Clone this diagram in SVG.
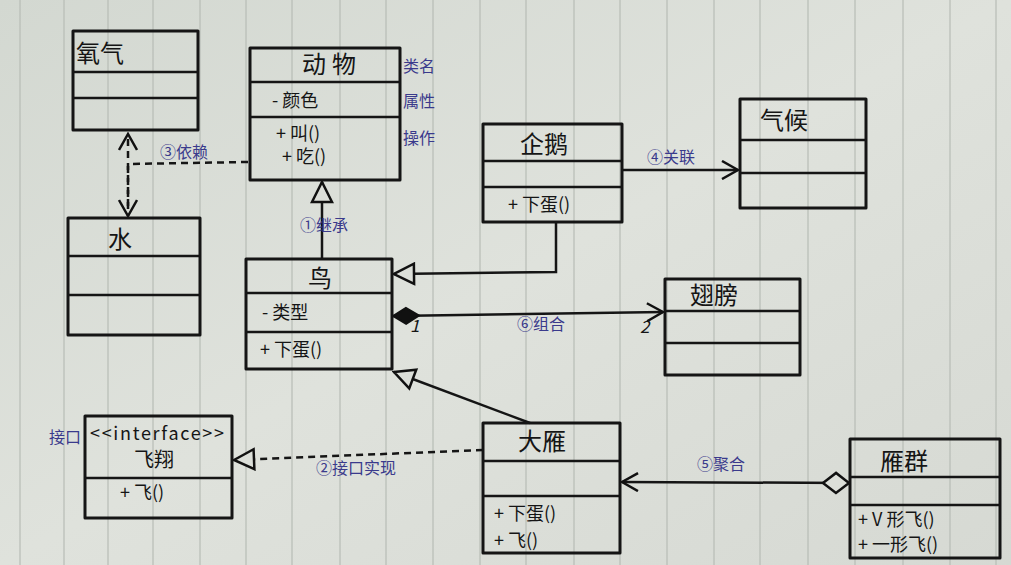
<svg xmlns="http://www.w3.org/2000/svg" width="1011" height="565" viewBox="0 0 1011 565">
<defs>
<linearGradient id="paper" x1="0" y1="0" x2="1" y2="1">
<stop offset="0" stop-color="#d3d8d1"/>
<stop offset="0.5" stop-color="#dfe2dc"/>
<stop offset="1" stop-color="#d6d9d3"/>
</linearGradient>
<marker id="open" viewBox="0 0 20 20" refX="18" refY="10" markerWidth="20" markerHeight="20" markerUnits="userSpaceOnUse" orient="auto">
<path d="M2,1 L18,10 L2,19" fill="none" stroke="#111" stroke-width="2.5"/>
</marker>
<marker id="tri" viewBox="0 0 24 24" refX="22" refY="12" markerWidth="24" markerHeight="24" markerUnits="userSpaceOnUse" orient="auto">
<path d="M2,2 L22,12 L2,22 Z" fill="#dcdfd9" stroke="#111" stroke-width="2.5"/>
</marker>
<marker id="fdia" viewBox="0 0 30 20" refX="1" refY="10" markerWidth="30" markerHeight="20" markerUnits="userSpaceOnUse" orient="auto">
<path d="M1,10 L14,2 L27,10 L14,18 Z" fill="#111" stroke="#111" stroke-width="2"/>
</marker>
<marker id="hdia" viewBox="0 0 30 24" refX="1" refY="12" markerWidth="30" markerHeight="24" markerUnits="userSpaceOnUse" orient="auto">
<path d="M1,12 L14,2 L27,12 L14,22 Z" fill="#dcdfd9" stroke="#111" stroke-width="2.5"/>
</marker>
</defs>
<style>
.box{fill:none;stroke:#151515;stroke-width:3;stroke-linejoin:round}
.div{stroke:#151515;stroke-width:2.5}
.t{font-family:"Noto Sans CJK SC","Noto Sans",sans-serif;fill:#151515}
.n{font-size:24px}
.m{font-size:18px}
.a{font-family:"Noto Sans CJK SC","Noto Sans",sans-serif;fill:#3a3a8c;font-size:16px}
.c{fill:none;stroke:#151515;stroke-width:2.5}
.d{stroke-dasharray:7 5}
.g{stroke:#b8bcb6;stroke-width:1.2}
</style>
<rect width="1011" height="565" fill="url(#paper)"/>
<g id="paper-lines">
<line class="g" x1="20" y1="0" x2="20" y2="565"/>
<line class="g" x1="64" y1="0" x2="64" y2="565"/>
<line class="g" x1="108" y1="0" x2="108" y2="565"/>
<line class="g" x1="153" y1="0" x2="153" y2="565"/>
<line class="g" x1="200" y1="0" x2="200" y2="565"/>
<line class="g" x1="246" y1="0" x2="246" y2="565"/>
<line class="g" x1="292" y1="0" x2="292" y2="565"/>
<line class="g" x1="340" y1="0" x2="340" y2="565"/>
<line class="g" x1="386" y1="0" x2="386" y2="565"/>
<line class="g" x1="433" y1="0" x2="433" y2="565"/>
<line class="g" x1="480" y1="0" x2="480" y2="565"/>
<line class="g" x1="526" y1="0" x2="526" y2="565"/>
<line class="g" x1="574" y1="0" x2="574" y2="565"/>
<line class="g" x1="620" y1="0" x2="620" y2="565"/>
<line class="g" x1="667" y1="0" x2="667" y2="565"/>
<line class="g" x1="714" y1="0" x2="714" y2="565"/>
<line class="g" x1="760" y1="0" x2="760" y2="565"/>
<line class="g" x1="808" y1="0" x2="808" y2="565"/>
<line class="g" x1="855" y1="0" x2="855" y2="565"/>
<line class="g" x1="903" y1="0" x2="903" y2="565"/>
<line class="g" x1="950" y1="0" x2="950" y2="565"/>
<line class="g" x1="996" y1="0" x2="996" y2="565"/>
</g>
<g id="connectors">
<path class="c d" d="M248,162 L128,164"/>
<path class="c d" d="M128,206 L128,134" marker-end="url(#open)"/>
<path class="c d" d="M128,166 L128,216" marker-end="url(#open)"/>
<path class="c" d="M322,258 L322,182" marker-end="url(#tri)"/>
<path class="c" d="M556,223 L556,272 L394,274" marker-end="url(#tri)"/>
<path class="c" d="M622,170 L738,170" marker-end="url(#open)"/>
<path class="c" d="M393,316 L663,312" marker-start="url(#fdia)" marker-end="url(#open)"/>
<path class="c" d="M530,423 L394,372" marker-end="url(#tri)"/>
<path class="c d" d="M483,450 L234,460" marker-end="url(#tri)"/>
<path class="c" d="M849,483 L622,482" marker-start="url(#hdia)" marker-end="url(#open)"/>
</g>
<g id="labels">
<text class="a" x="160" y="158">③依赖</text>
<text class="a" x="300" y="231">①继承</text>
<text class="a" x="647" y="163">④关联</text>
<text class="a" x="517" y="330">⑥组合</text>
<text class="t" x="410" y="332" font-size="17" font-style="italic">1</text>
<text class="t" x="640" y="333" font-size="17" font-style="italic">2</text>
<text class="a" x="316" y="474">②接口实现</text>
<text class="a" x="697" y="470">⑤聚合</text>
<text class="a" x="403" y="72">类名</text>
<text class="a" x="403" y="107">属性</text>
<text class="a" x="403" y="144">操作</text>
<text class="a" x="49" y="443">接口</text>
</g>
<g id="node-oxygen">
<rect class="box" x="73" y="31" width="125" height="99"/>
<line class="div" x1="73" y1="72" x2="198" y2="72"/>
<line class="div" x1="73" y1="98" x2="198" y2="98"/>
<text class="t n" x="76" y="62">氧气</text>
</g>
<g id="node-animal">
<rect class="box" x="250" y="48" width="150" height="132"/>
<line class="div" x1="250" y1="82" x2="400" y2="82"/>
<line class="div" x1="250" y1="117" x2="400" y2="117"/>
<text class="t n" x="302" y="73" letter-spacing="6">动物</text>
<text class="t m" x="272" y="107">- 颜色</text>
<text class="t m" x="276" y="140">+ 叫()</text>
<text class="t m" x="282" y="163">+ 吃()</text>
</g>
<g id="node-water">
<rect class="box" x="68" y="218" width="132" height="117"/>
<line class="div" x1="68" y1="256" x2="200" y2="256"/>
<line class="div" x1="68" y1="295" x2="200" y2="295"/>
<text class="t n" x="108" y="248">水</text>
</g>
<g id="node-penguin">
<rect class="box" x="483" y="124" width="139" height="98"/>
<line class="div" x1="483" y1="161" x2="622" y2="161"/>
<line class="div" x1="483" y1="187" x2="622" y2="187"/>
<text class="t n" x="520" y="153">企鹅</text>
<text class="t m" x="508" y="211">+ 下蛋()</text>
</g>
<g id="node-climate">
<rect class="box" x="740" y="99" width="126" height="109"/>
<line class="div" x1="740" y1="140" x2="866" y2="140"/>
<line class="div" x1="740" y1="173" x2="866" y2="173"/>
<text class="t n" x="760" y="129">气候</text>
</g>
<g id="node-bird">
<rect class="box" x="246" y="259" width="146" height="110"/>
<line class="div" x1="246" y1="293" x2="392" y2="293"/>
<line class="div" x1="246" y1="332" x2="392" y2="332"/>
<text class="t n" x="308" y="287">鸟</text>
<text class="t m" x="262" y="319">- 类型</text>
<text class="t m" x="260" y="356">+ 下蛋()</text>
</g>
<g id="node-wing">
<rect class="box" x="665" y="279" width="135" height="96"/>
<line class="div" x1="665" y1="311" x2="800" y2="311"/>
<line class="div" x1="665" y1="343" x2="800" y2="343"/>
<text class="t n" x="690" y="304">翅膀</text>
</g>
<g id="node-fly">
<rect class="box" x="85" y="416" width="147" height="102"/>
<line class="div" x1="85" y1="478" x2="232" y2="478"/>
<text class="t m" x="90" y="440" textLength="134" lengthAdjust="spacing">&lt;&lt;interface&gt;&gt;</text>
<text class="t" font-size="20" x="134" y="467">飞翔</text>
<text class="t m" x="120" y="499">+ 飞()</text>
</g>
<g id="node-goose">
<rect class="box" x="483" y="423" width="137" height="130"/>
<line class="div" x1="483" y1="461" x2="620" y2="461"/>
<line class="div" x1="483" y1="496" x2="620" y2="496"/>
<text class="t n" x="518" y="450">大雁</text>
<text class="t m" x="494" y="520">+ 下蛋()</text>
<text class="t m" x="494" y="547">+ 飞()</text>
</g>
<g id="node-flock">
<rect class="box" x="850" y="439" width="150" height="119"/>
<line class="div" x1="850" y1="477" x2="1000" y2="477"/>
<line class="div" x1="850" y1="505" x2="1000" y2="505"/>
<text class="t n" x="880" y="470">雁群</text>
<text class="t m" x="858" y="526">+ V 形飞()</text>
<text class="t m" x="858" y="551">+ 一形飞()</text>
</g>
</svg>
